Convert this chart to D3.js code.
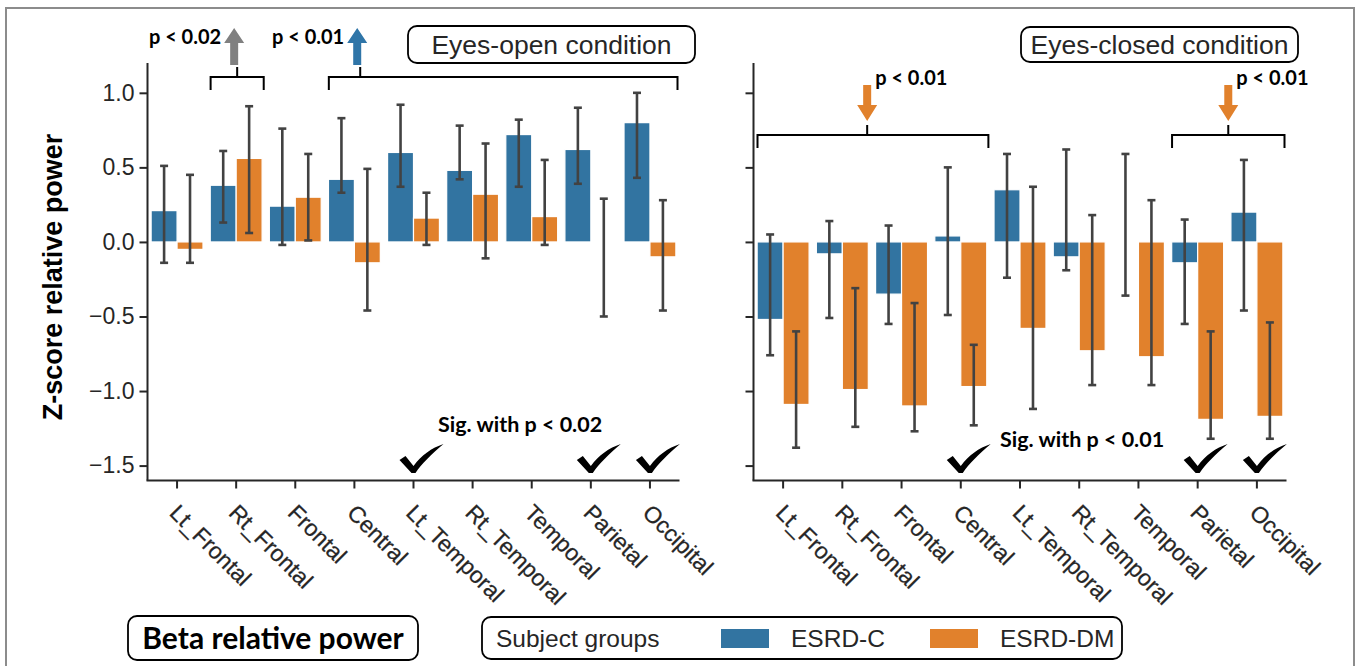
<!DOCTYPE html>
<html>
<head>
<meta charset="utf-8">
<script src="https://cdn.jsdelivr.net/npm/d3@7"></script>
<style>
  html, body { margin: 0; padding: 0; background: #fff; }
  svg { display: block; }
  .tick text { fill: #262626; }
</style>
</head>
<body>
<svg id="chart" width="1360" height="666"></svg>
<script>
// ---------------- DATA ----------------
const categories = ["Lt_Frontal","Rt_Frontal","Frontal","Central","Lt_Temporal","Rt_Temporal","Temporal","Parietal","Occipital"];
const groups = ["ESRD-C","ESRD-DM"];
const yTicks = [-1.5, -1.0, -0.5, 0.0, 0.5, 1.0];

// Eyes-open condition
const openC      = [0.21, 0.38, 0.24, 0.42, 0.60, 0.48, 0.72, 0.62, 0.80];
const openCLow   = [-0.14, 0.13, -0.02, 0.33, 0.37, 0.42, 0.37, 0.39, 0.43];
const openCHigh  = [0.51, 0.61, 0.76, 0.83, 0.92, 0.78, 0.82, 0.90, 1.00];
const openDM     = [-0.05, 0.56, 0.30, -0.14, 0.16, 0.32, 0.17, 0.00, -0.10];
const openDMLow  = [-0.14, 0.06, 0.01, -0.46, -0.02, -0.11, -0.02, -0.50, -0.46];
const openDMHigh = [0.45, 0.91, 0.59, 0.49, 0.33, 0.66, 0.55, 0.29, 0.28];

// Eyes-closed condition
const closedC      = [-0.52, -0.08, -0.35, 0.04, 0.35, -0.10, 0.00, -0.14, 0.20];
const closedCLow   = [-0.76, -0.51, -0.55, -0.49, -0.24, -0.19, -0.36, -0.55, -0.46];
const closedCHigh  = [0.05, 0.14, 0.11, 0.50, 0.59, 0.62, 0.59, 0.15, 0.55];
const closedDM     = [-1.09, -0.99, -1.10, -0.97, -0.58, -0.73, -0.77, -1.19, -1.17];
const closedDMLow  = [-1.38, -1.24, -1.27, -1.23, -1.12, -0.96, -0.96, -1.32, -1.32];
const closedDMHigh = [-0.60, -0.31, -0.41, -0.69, 0.37, 0.18, 0.28, -0.60, -0.54];

// Significance annotations
const openSig = ["Lt_Temporal", "Parietal", "Occipital"];
const closedSig = ["Central", "Parietal", "Occipital"];
const openSigLabel = "Sig. with p < 0.02";
const closedSigLabel = "Sig. with p < 0.01";
const openBrackets = [
  {from: "Rt_Frontal", to: "Rt_Frontal", label: "p < 0.02", dir: "up", color: "#808080", pos: 0.5},
  {from: "Central", to: "Occipital", label: "p < 0.01", dir: "up", color: "#2f75a8", pos: 0.09}
];
const closedBrackets = [
  {from: "Lt_Frontal", to: "Central", label: "p < 0.01", dir: "down", color: "#e1812c", pos: 0.475},
  {from: "Parietal", to: "Occipital", label: "p < 0.01", dir: "down", color: "#e1812c", pos: 0.5}
];

const colors = {"ESRD-C": "#3274a1", "ESRD-DM": "#e1812c"};
const errColor = "#424242";

// ---------------- DRAW ----------------
const svg = d3.select("#chart");
const calibri = "Lato, sans-serif";
const arial = "Liberation Sans";

svg.append("rect").attr("x", 6).attr("y", 8).attr("width", 1348).attr("height", 670)
  .attr("fill", "none").attr("stroke", "#8c8c8c").attr("stroke-width", 2);

const y = d3.scaleLinear().domain([-1.6, 1.2]).range([480.5, 63]);

function panel(x0, x1, data, showLabels, sigList, sigLabel, sigPos, brackets, bracketY, titleBox) {
  const x = d3.scaleBand().domain(categories).range([x0, x1]).padding(0);
  const inner = d3.scaleBand().domain(groups).range([0, x.bandwidth()]).paddingOuter(0.14).paddingInner(0);
  const g = svg.append("g");

  const rows = [];
  categories.forEach((c, i) => {
    rows.push({cat: c, grp: "ESRD-C", v: data.c[i], lo: data.cLo[i], hi: data.cHi[i]});
    rows.push({cat: c, grp: "ESRD-DM", v: data.dm[i], lo: data.dmLo[i], hi: data.dmHi[i]});
  });
  g.selectAll("rect.bar").data(rows).join("rect").attr("class", "bar")
    .attr("x", d => x(d.cat) + inner(d.grp))
    .attr("width", inner.bandwidth())
    .attr("y", d => y(Math.max(0, d.v)))
    .attr("height", d => Math.abs(y(d.v) - y(0)))
    .attr("fill", d => colors[d.grp])
    .attr("stroke", "#fff").attr("stroke-width", 1.2);

  const cx = d => x(d.cat) + inner(d.grp) + inner.bandwidth() / 2;
  const eb = g.selectAll("g.err").data(rows).join("g").attr("class", "err")
    .attr("stroke", errColor).attr("stroke-width", 2.6);
  eb.append("line").attr("x1", cx).attr("x2", cx).attr("y1", d => y(d.lo)).attr("y2", d => y(d.hi));
  eb.append("line").attr("x1", d => cx(d) - 4).attr("x2", d => cx(d) + 4).attr("y1", d => y(d.lo)).attr("y2", d => y(d.lo));
  eb.append("line").attr("x1", d => cx(d) - 4).attr("x2", d => cx(d) + 4).attr("y1", d => y(d.hi)).attr("y2", d => y(d.hi));

  const yAxis = d3.axisLeft(y).tickValues(yTicks).tickSize(8).tickPadding(5)
    .tickFormat(showLabels ? (d => d3.format(".1f")(d).replace("-", "\u2212")) : "");
  const ya = g.append("g").attr("transform", `translate(${x0},0)`).call(yAxis);
  ya.attr("font-family", arial).attr("font-size", 23);
  ya.select(".domain").remove();
  ya.append("line").attr("x1", 0).attr("x2", 0).attr("y1", y.range()[1]).attr("y2", y.range()[0]).attr("stroke", "#262626").attr("stroke-width", 2);
  ya.selectAll(".tick line").attr("stroke", "#262626").attr("stroke-width", 2);
  ya.selectAll(".tick text").attr("fill", "#262626");

  const xAxis = d3.axisBottom(x).tickSize(8).tickPadding(5);
  const xa = g.append("g").attr("transform", `translate(0,${y.range()[0]})`).call(xAxis);
  xa.attr("font-family", arial).attr("font-size", 23);
  xa.select(".domain").remove();
  xa.append("line").attr("x1", x0 - 1).attr("x2", x1).attr("y1", 0).attr("y2", 0).attr("stroke", "#262626").attr("stroke-width", 2);
  xa.selectAll(".tick line").attr("stroke", "#262626").attr("stroke-width", 2);
  xa.selectAll(".tick text")
    .attr("fill", "#262626").style("fill", "#262626")
    .attr("stroke", "#262626").attr("stroke-width", 0.25)
    .attr("text-anchor", "start")
    .attr("transform", "translate(-3,28) rotate(45)")
    .attr("y", 0).attr("dy", "0.35em").attr("x", 0);

  sigList.forEach(c => {
    const bx = x(c) + x.bandwidth() / 2;
    const by = 473;
    g.append("path")
      .attr("d", `M${bx-14},${by-13} L${bx-8},${by-17} L${bx},${by-7} C${bx+8},${by-18} ${bx+18},${by-25} ${bx+30},${by-29} C${bx+18},${by-19} ${bx+8},${by-9} ${bx+2},${by} L${bx-2},${by} Z`)
      .attr("fill", "#000");
  });
  g.append("text").attr("x", sigPos[0]).attr("y", sigPos[1])
    .attr("font-family", calibri).attr("font-weight", "bold").attr("font-size", 21.5)
    .attr("fill", "#000").text(sigLabel);

  brackets.forEach(b => {
    const bx0 = x(b.from) + 4, bx1 = x(b.to) + x.bandwidth() - 2;
    const mx = bx0 + (bx1 - bx0) * b.pos;
    const by = bracketY;
    g.append("path").attr("d", `M${bx0},${by+13} L${bx0},${by} L${bx1},${by} L${bx1},${by+13} M${mx},${by} L${mx},${by-10}`)
      .attr("fill", "none").attr("stroke", "#000").attr("stroke-width", 2);
    let ax = mx - 3, arrow, tx, ty, anchor;
    if (b.dir === "up") {
      const bot = by - 12, top = bot - 37;
      arrow = `M${ax-4},${bot} L${ax-4},${top+15} L${ax-10},${top+15} L${ax},${top} L${ax+10},${top+15} L${ax+4},${top+15} L${ax+4},${bot} Z`;
      tx = ax - 13; ty = top + 16; anchor = "end";
    } else {
      ax = mx;
      const top = by - 50, bot = by - 14;
      arrow = `M${ax-4},${top} L${ax-4},${bot-16} L${ax-10},${bot-16} L${ax},${bot} L${ax+10},${bot-16} L${ax+4},${bot-16} L${ax+4},${top} Z`;
      tx = ax + 8; ty = top; anchor = "start";
    }
    g.append("path").attr("d", arrow).attr("fill", b.color);
    g.append("text").attr("x", tx).attr("y", ty).attr("text-anchor", anchor)
      .attr("font-family", calibri).attr("font-weight", "bold").attr("font-size", 20)
      .attr("fill", "#000").text(b.label);
  });

  const tb = titleBox;
  g.append("rect").attr("x", tb.x).attr("y", tb.y).attr("width", tb.w).attr("height", tb.h)
    .attr("rx", 9).attr("fill", "#fff").attr("stroke", "#000").attr("stroke-width", 1.8);
  g.append("text").attr("x", tb.x + tb.w / 2).attr("y", tb.y + tb.h / 2).attr("dy", "0.36em")
    .attr("text-anchor", "middle").attr("font-family", arial).attr("font-size", 26.5).attr("fill", "#262626")
    .text(tb.text);
  return x;
}

panel(147.5, 679.5,
  {c: openC, cLo: openCLow, cHi: openCHigh, dm: openDM, dmLo: openDMLow, dmHi: openDMHigh},
  true, openSig, openSigLabel, [438, 432], openBrackets, 77,
  {x: 408, y: 26, w: 287, h: 37, text: "Eyes-open condition"});

panel(753.5, 1286.5,
  {c: closedC, cLo: closedCLow, cHi: closedCHigh, dm: closedDM, dmLo: closedDMLow, dmHi: closedDMHigh},
  false, closedSig, closedSigLabel, [1000, 447], closedBrackets, 135,
  {x: 1021, y: 27, w: 277, h: 35, text: "Eyes-closed condition"});

svg.append("text").attr("transform", "translate(62,277) rotate(-90)")
  .attr("text-anchor", "middle").attr("font-family", arial).attr("font-weight", "bold")
  .attr("font-size", 27).attr("fill", "#000").text("Z-score relative power");

svg.append("rect").attr("x", 128).attr("y", 616).attr("width", 290).attr("height", 44)
  .attr("rx", 9).attr("fill", "#fff").attr("stroke", "#000").attr("stroke-width", 1.8);
svg.append("text").attr("x", 273).attr("y", 638).attr("dy", "0.36em").attr("text-anchor", "middle")
  .attr("font-family", calibri).attr("font-weight", "bold").attr("font-size", 30).attr("fill", "#000")
  .text("Beta relative power");

const lg = svg.append("g");
lg.append("rect").attr("x", 482).attr("y", 617).attr("width", 640).attr("height", 42)
  .attr("rx", 9).attr("fill", "#fff").attr("stroke", "#000").attr("stroke-width", 1.8);
lg.append("text").attr("x", 496).attr("y", 638).attr("dy", "0.36em")
  .attr("font-family", arial).attr("font-size", 24.5).attr("fill", "#262626").text("Subject groups");
const legendX = [721, 930];
groups.forEach((gname, i) => {
  lg.append("rect").attr("x", legendX[i]).attr("y", 629).attr("width", 48).attr("height", 19)
    .attr("fill", colors[gname]);
  lg.append("text").attr("x", legendX[i] + 70).attr("y", 638).attr("dy", "0.36em")
    .attr("font-family", arial).attr("font-size", 24.5).attr("fill", "#262626").text(gname);
});
</script>
</body>
</html>
